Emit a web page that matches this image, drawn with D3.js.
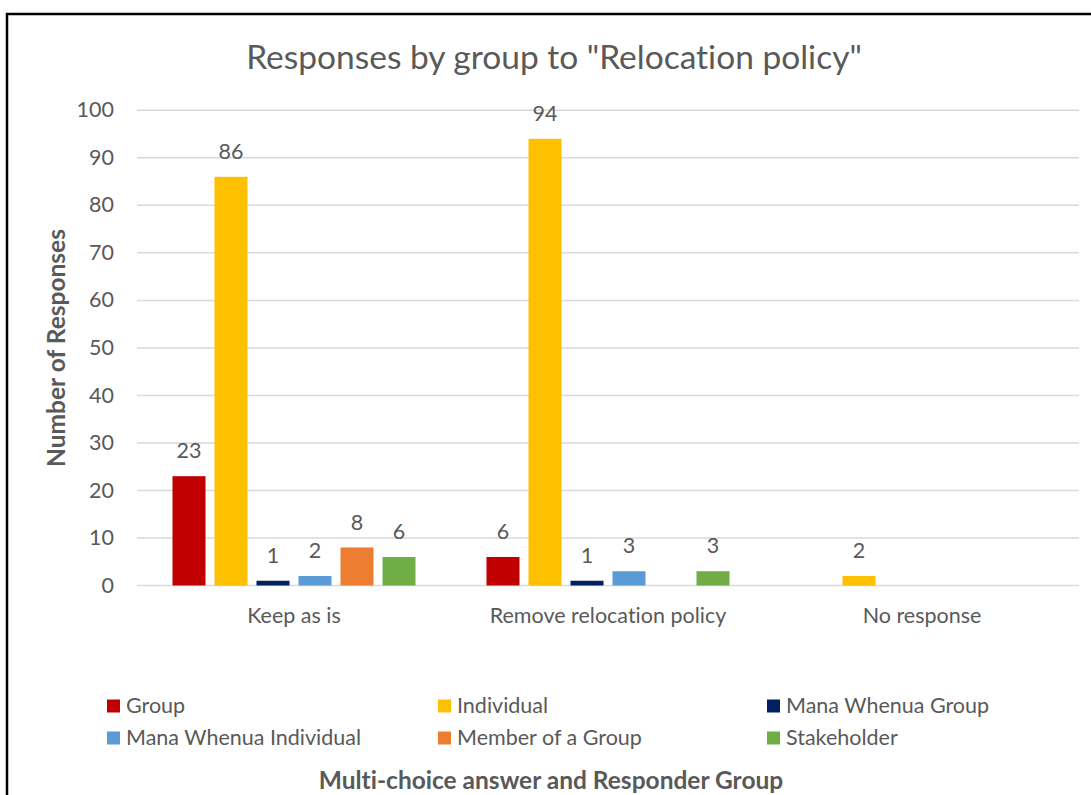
<!DOCTYPE html>
<html><head><meta charset="utf-8">
<script src="https://cdn.jsdelivr.net/npm/d3@7"></script>
<style>body{margin:0;background:#fff}svg{display:block}text{font-family:Lato,"Open Sans",sans-serif;font-variant-ligatures:none;font-feature-settings:"liga" 0,"dlig" 0}</style>
</head><body>
<svg id="c" width="1091" height="795"></svg>
<script>
const categories = ["Keep as is", "Remove relocation policy", "No response"];
const seriesNames = ["Group", "Individual", "Mana Whenua Group", "Mana Whenua Individual", "Member of a Group", "Stakeholder"];
const seriesColors = ["#C00000", "#FFC000", "#002060", "#5B9BD5", "#ED7D31", "#70AD47"];
const groupValues = [23, 6, 0];
const individualValues = [86, 94, 2];
const manaGroupValues = [1, 1, 0];
const manaIndividualValues = [2, 3, 0];
const memberValues = [8, 0, 0];
const stakeholderValues = [6, 3, 0];
const yTicks = [0, 10, 20, 30, 40, 50, 60, 70, 80, 90, 100];

(function () {
const allSeries = [groupValues, individualValues, manaGroupValues, manaIndividualValues, memberValues, stakeholderValues];
const svg = d3.select("#c");
const txt = "#595959";
const fs = 21.5;

svg.append("rect").attr("x", 7).attr("y", 14).attr("width", 1200).attr("height", 900)
  .attr("fill", "none").attr("stroke", "#000").attr("stroke-width", 2.5);

const pLeft = 137, pRight = 1079, pTop = 110.3, pBottom = 585.5;
const y = d3.scaleLinear().domain([0, 100]).range([pBottom, pTop]);
const x0 = d3.scaleBand().domain(categories).range([pLeft, pRight]).padding(0);
const x1 = d3.scaleBand().domain(seriesNames).range([0, x0.bandwidth()]).paddingInner(9/42).paddingOuter(0.845);

svg.append("g").selectAll("line").data(yTicks).join("line")
  .attr("x1", pLeft).attr("x2", pRight).attr("y1", d => y(d)).attr("y2", d => y(d))
  .attr("stroke", "#D9D9D9").attr("stroke-width", 1.5);

svg.append("g").selectAll("text").data(yTicks).join("text")
  .attr("x", 114).attr("y", d => y(d)).attr("dy", "0.33em").attr("text-anchor", "end")
  .attr("fill", txt).attr("font-size", fs).text(d => d);

const data = [];
categories.forEach((c, ci) => seriesNames.forEach((s, si) => data.push({c, s, si, v: allSeries[si][ci]})));
const g = svg.append("g");
g.selectAll("rect").data(data.filter(d => d.v > 0)).join("rect")
  .attr("x", d => x0(d.c) + x1(d.s)).attr("width", x1.bandwidth())
  .attr("y", d => y(d.v)).attr("height", d => y(0) - y(d.v))
  .attr("fill", d => seriesColors[d.si]);
g.selectAll("text").data(data.filter(d => d.v > 0)).join("text")
  .attr("x", d => x0(d.c) + x1(d.s) + x1.bandwidth() / 2).attr("y", d => y(d.v) - 25)
  .attr("dy", "0.33em").attr("text-anchor", "middle").attr("fill", txt).attr("font-size", fs)
  .text(d => d.v);

svg.append("g").selectAll("text").data(categories).join("text")
  .attr("x", d => x0(d) + x0.bandwidth() / 2).attr("y", 615.5).attr("dy", "0.33em")
  .attr("text-anchor", "middle").attr("fill", txt).attr("font-size", fs).text(d => d);

svg.append("text").attr("x", 554).attr("y", 58).attr("dy", "0.33em").attr("text-anchor", "middle")
  .attr("fill", txt).attr("font-size", 33.5).text('Responses by group to "Relocation policy"');

svg.append("text").attr("transform", "translate(57,348) rotate(-90)").attr("dy", "0.33em")
  .attr("text-anchor", "middle").attr("fill", txt).attr("font-size", 24.5).attr("font-weight", "bold")
  .text("Number of Responses");

svg.append("text").attr("x", 551).attr("y", 781).attr("dy", "0.33em").attr("text-anchor", "middle")
  .attr("fill", txt).attr("font-size", 24.5).attr("font-weight", "bold")
  .text("Multi-choice answer and Responder Group");

const colX = [107, 438, 767], rowY = [706, 738];
const lg = svg.append("g").selectAll("g").data(seriesNames).join("g")
  .attr("transform", (d, i) => `translate(${colX[i % 3]},${rowY[Math.floor(i / 3)]})`);
lg.append("rect").attr("x", 0).attr("y", -6.5).attr("width", 13).attr("height", 13)
  .attr("fill", (d, i) => seriesColors[i]);
lg.append("text").attr("x", 19).attr("dy", "0.33em").attr("fill", txt).attr("font-size", fs).text(d => d);
})();
</script>
</body></html>
